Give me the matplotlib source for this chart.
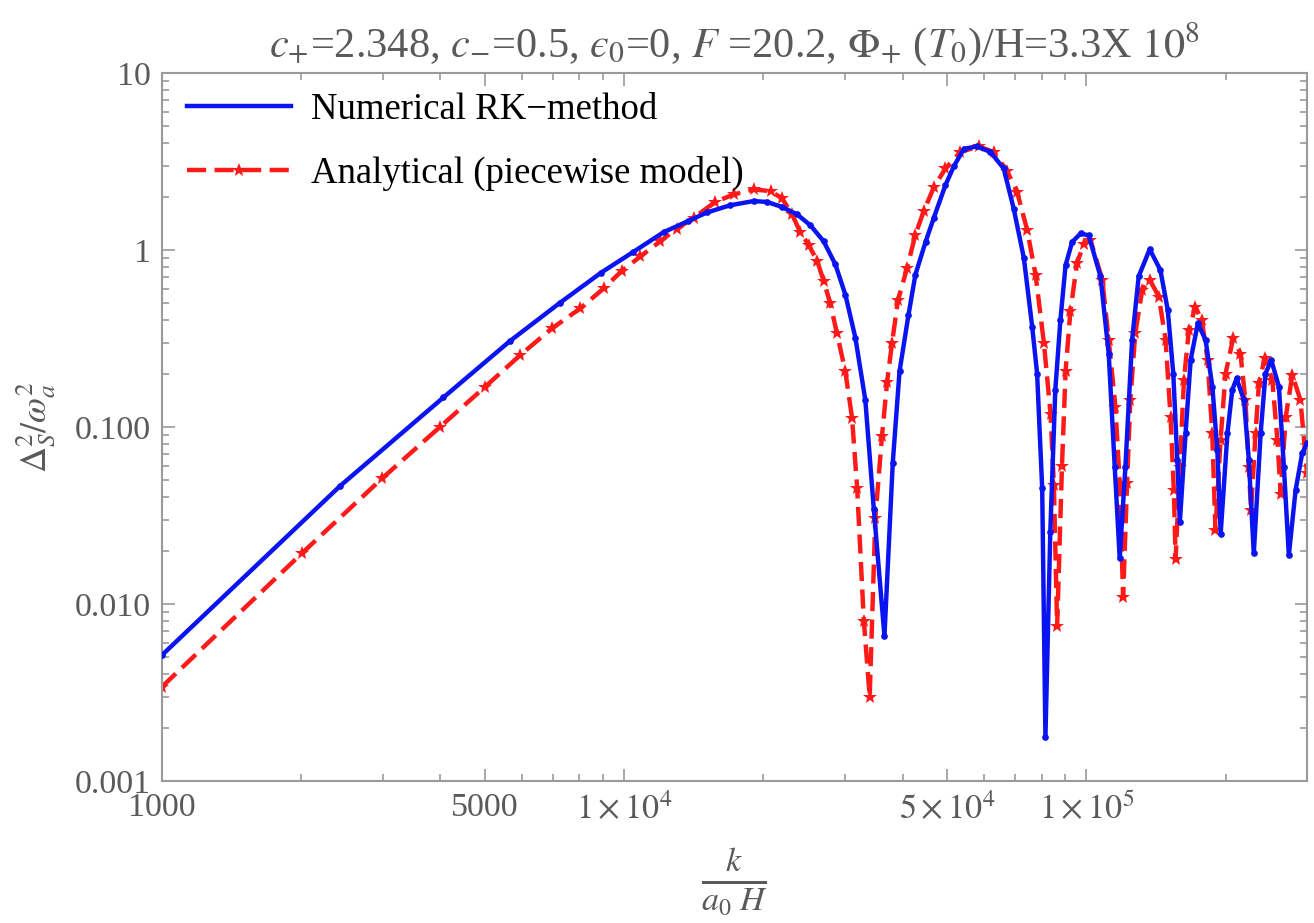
"""
Spettro Delta_S^2/omega_a^2: soluzione numerica (RK) contro modello analitico a tratti.
Valori letti dal grafico di riferimento.
"""
import matplotlib
matplotlib.use("Agg")
import matplotlib.pyplot as plt
from matplotlib.lines import Line2D
from matplotlib.ticker import FixedLocator, LogLocator, NullFormatter

# numerico (RK): k/(a0 H) e Delta^2/omega^2
k_num = [1000, 2427, 4063, 5650, 7265, 8905, 10470, 12160, 13770, 15100,
         16950, 19040, 20350, 21950, 23650, 25270, 27000, 28620, 30080, 31620,
         33230, 34660, 36550, 38100, 39400, 41200, 42640, 44850, 46700, 49540,
         51640, 54300, 57960, 61950, 66200, 69600, 73200, 76300, 78200, 80200,
         81500, 83500, 85600, 87800, 90100, 93100, 97100, 101100, 107200, 111700,
         115100, 118000, 121400, 125500, 129700, 137000, 144500, 149900, 154100, 157200,
         159200, 163800, 168000, 174100, 181000, 187200, 191900, 195100, 201800, 206700,
         211200, 219100, 224500, 230100, 238100, 243900, 251000, 260800, 267300, 274000,
         283400, 292800, 300000]
y_num = [0.00515, 0.0464, 0.147, 0.305, 0.504, 0.744, 0.977, 1.26, 1.46, 1.63,
         1.79, 1.89, 1.87, 1.75, 1.59, 1.38, 1.12, 0.83, 0.56, 0.32,
         0.142, 0.0345, 0.0066, 0.063, 0.206, 0.43, 0.725, 1.11, 1.51, 2.33,
         2.97, 3.73, 3.85, 3.58, 2.89, 1.71, 0.90, 0.369, 0.20, 0.045,
         0.00177, 0.0255, 0.161, 0.40, 0.82, 1.11, 1.24, 1.21, 0.71, 0.26,
         0.0597, 0.0181, 0.0597, 0.31, 0.71, 1.01, 0.77, 0.458, 0.20, 0.065,
         0.029, 0.092, 0.239, 0.385, 0.31, 0.169, 0.074, 0.025, 0.092, 0.162,
         0.188, 0.142, 0.065, 0.0193, 0.092, 0.20, 0.239, 0.169, 0.0597, 0.0189,
         0.044, 0.071, 0.081]

# analitico (modello a tratti)
k_ana = [1000, 2005, 2994, 3998, 5003, 5957, 6977, 8036, 9025, 9888,
         10840, 11960, 13000, 14130, 15740, 17250, 19070, 20720, 21950, 23070,
         24040, 25050, 26130, 27000, 27900, 28840, 30080, 31100, 31900, 32990,
         33960, 34930, 36110, 37030, 37970, 39100, 40900, 42640, 44460, 46740,
         49540, 53370, 58430, 62980, 67300, 70800, 74400, 77600, 80900, 83600,
         85000, 86400, 88500, 90100, 92300, 95400, 98700, 102000, 108200, 111700,
         115500, 118000, 120000, 122400, 124400, 127500, 132000, 137000, 143400, 148300,
         152000, 154500, 155900, 159200, 162500, 166500, 172000, 177700, 182800, 187100,
         190100, 195000, 199900, 207600, 215300, 220700, 224400, 227000, 232100, 236100,
         243000, 252400, 258800, 263100, 269800, 278800, 290300, 300000]
y_ana = [0.00341, 0.0193, 0.0513, 0.1004, 0.169, 0.255, 0.361, 0.468, 0.607, 0.764,
         0.92, 1.12, 1.32, 1.52, 1.87, 2.06, 2.20, 2.15, 1.96, 1.59,
         1.26, 1.07, 0.87, 0.67, 0.50, 0.34, 0.206, 0.113, 0.0455, 0.0080,
         0.0030, 0.0306, 0.089, 0.179, 0.30, 0.52, 0.79, 1.22, 1.66, 2.26,
         2.89, 3.58, 3.85, 3.58, 2.80, 2.12, 1.30, 0.725, 0.297, 0.119,
         0.047, 0.0075, 0.060, 0.206, 0.452, 0.845, 1.08, 1.14, 0.68, 0.31,
         0.130, 0.048, 0.011, 0.048, 0.142, 0.338, 0.594, 0.68, 0.545, 0.31,
         0.114, 0.044, 0.018, 0.0597, 0.184, 0.353, 0.478, 0.40, 0.239, 0.092,
         0.0262, 0.0845, 0.20, 0.317, 0.26, 0.142, 0.0597, 0.034, 0.092, 0.177,
         0.245, 0.184, 0.0845, 0.042, 0.114, 0.197, 0.142, 0.055]

x_ticks = [1000, 5000, 1e4, 5e4, 1e5]
x_labels = ["1000", "5000", r"$1\times10^{4}$", r"$5\times10^{4}$", r"$1\times10^{5}$"]
y_ticks = [0.001, 0.01, 0.1, 1, 10]
y_labels = ["0.001", "0.010", "0.100", "1", "10"]

GREY = "#5a5a5a"
FRAME = "#9a9a9a"
BLUE = "#0a14f0"
RED = "#ff1a1a"
DASH = (4.3, 1.9)

plt.rcParams["font.family"] = ["Liberation Serif", "DejaVu Serif"]
plt.rcParams["mathtext.fontset"] = "stix"

fig = plt.figure(figsize=(13.14, 9.23), dpi=100)
ax = fig.add_axes([0.1233, 0.1538, 0.8714, 0.7671])
ax.set_xscale("log")
ax.set_yscale("log")

ax.plot(k_num, y_num, color=BLUE, lw=3.2, marker="o", ms=3.8,
        solid_joinstyle="round", zorder=3)
ax.plot(k_ana, y_ana, color=RED, lw=3.2, dashes=DASH, marker="*",
        ms=10, mew=0, zorder=2)

ax.set_xlim(1000, 3.0e5)
ax.set_ylim(0.001, 10)

# tacche stile Mathematica: verso l'interno, su tutti i lati
ax.xaxis.set_major_locator(FixedLocator(x_ticks))
ax.set_xticklabels(x_labels)
ax.xaxis.set_minor_locator(LogLocator(base=10, subs=(2, 3, 4, 6, 7, 8, 9)))
ax.xaxis.set_minor_formatter(NullFormatter())
ax.yaxis.set_major_locator(FixedLocator(y_ticks))
ax.set_yticklabels(y_labels)
ax.yaxis.set_minor_locator(LogLocator(base=10, subs=range(2, 10)))
ax.yaxis.set_minor_formatter(NullFormatter())
ax.tick_params(which="both", direction="in", top=True, right=True,
               color=FRAME, labelcolor=GREY, labelsize=24.5, width=1.2)
ax.tick_params(which="major", length=9, pad=8)
ax.tick_params(which="minor", length=5)
for sp in ax.spines.values():
    sp.set_color(FRAME)
    sp.set_linewidth(1.5)

ax.set_title("$c_{+}$=2.348, $c_{-}$=0.5, $\u03f5_0$=0, $F$ =20.2, "
             "$\\Phi_{+}$ ($T_0$)/H=3.3X $10^8$",
             color=GREY, fontsize=30.5, pad=12)
ax.set_xlabel(r"$\frac{k}{a_0\ H}$", color=GREY, fontsize=35, labelpad=14)
ax.set_ylabel(r"$\Delta_S^2/\omega_a^2$", color=GREY, fontsize=26)
ax.yaxis.set_label_coords(-0.091, 0.5)

handles = [Line2D([], [], color=BLUE, lw=3.2),
           Line2D([], [], color=RED, lw=3.2, dashes=DASH,
                  marker="*", ms=10, mew=0)]
ax.legend(handles, ["Numerical RK\u2212method", "Analytical (piecewise model)"],
          loc="upper left", bbox_to_anchor=(0.022, 0.972), frameon=False,
          fontsize=26.5, handlelength=2.83, handletextpad=0.54,
          labelspacing=0.78, borderpad=0, borderaxespad=0, numpoints=1)

fig.savefig("out.png", dpi=100)
